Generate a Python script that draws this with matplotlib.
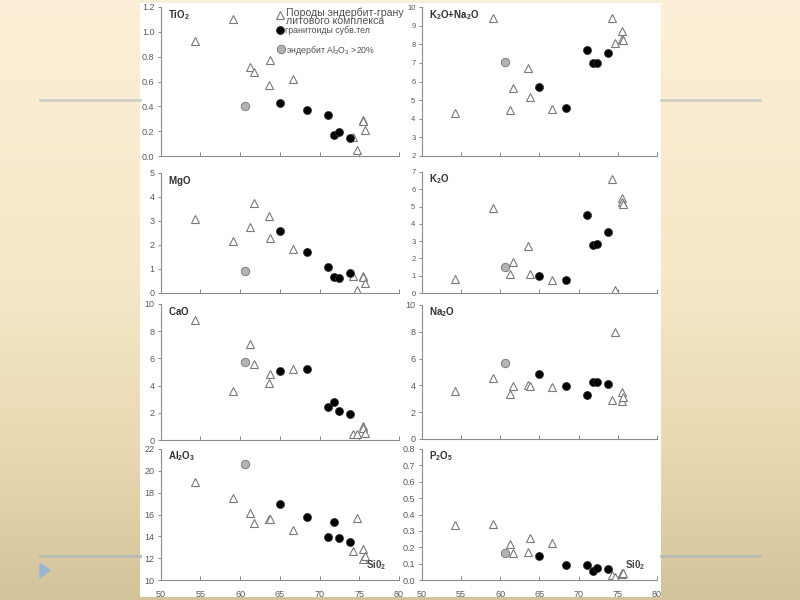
"""Harker diagrams (oxides vs SiO2) on a beige slide background."""

import matplotlib

matplotlib.use("Agg")
import matplotlib.pyplot as plt
import numpy as np
from matplotlib.colors import LinearSegmentedColormap
from matplotlib.lines import Line2D
from matplotlib.patches import Polygon, Rectangle

plt.rcParams["font.family"] = ["Liberation Sans", "DejaVu Sans"]
plt.rcParams["mathtext.fontset"] = "custom"
plt.rcParams["mathtext.rm"] = "Liberation Sans"
plt.rcParams["mathtext.bf"] = "Liberation Sans:bold"

# SiO2, wt.% -- enderbite-granulite rocks (triangles), subvolcanic granitoids (black),
# enderbite with Al2O3 > 20% (grey)
SIO2_TRI = [54.3, 59.1, 61.2, 61.7, 63.6, 63.8, 66.6, 74.2, 74.7, 75.5, 75.5, 75.7]
SIO2_BLK = [65.0, 68.4, 71.1, 71.8, 72.4, 73.8]
SIO2_GRY = [60.6]

TIO2_TRI = [0.93, 1.10, 0.72, 0.68, 0.57, 0.77, 0.62, 0.15, 0.05, 0.29, 0.28, 0.21]
TIO2_BLK = [0.425, 0.374, 0.33, 0.168, 0.195, 0.144]
TIO2_GRY = [0.40]

MGO_TRI = [3.07, 2.16, 2.73, 3.74, 3.22, 2.30, 1.81, 0.69, 0.10, 0.70, 0.64, 0.38]
MGO_BLK = [2.58, 1.71, 1.05, 0.66, 0.59, 0.80]
MGO_GRY = [0.90]

CAO_TRI = [8.79, 3.62, 7.05, 5.60, 4.20, 4.88, 5.25, 0.41, 0.41, 1.00, 0.90, 0.48]
CAO_BLK = [5.05, 5.19, 2.46, 2.83, 2.15, 1.93]
CAO_GRY = [5.70]

AL2O3_TRI = [18.94, 17.5, 16.18, 15.2, 15.55, 15.6, 14.6, 12.66, 15.7, 12.8, 11.93, 12.2]
AL2O3_BLK = [16.92, 15.76, 13.92, 15.27, 13.89, 13.52]
AL2O3_GRY = [20.65]

ALK_TRI = [4.30, 9.41, 4.48, 5.65, 6.70, 5.15, 4.55, 9.40, 8.09, 8.69, 8.27, 8.22]
ALK_BLK = [5.69, 4.59, 7.71, 6.99, 6.99, 7.52]
ALK_GRY = [7.05]

K2O_TRI = [0.81, 4.93, 1.11, 1.77, 2.73, 1.09, 0.73, 6.62, 0.15, 5.51, 5.28, 5.14]
K2O_BLK = [0.96, 0.73, 4.49, 2.78, 2.82, 3.55]
K2O_GRY = [1.48]

NA2O_TRI = [3.60, 4.54, 3.35, 3.92, 4.04, 3.97, 3.85, 2.88, 8.01, 3.50, 2.80, 3.10]
NA2O_BLK = [4.84, 3.92, 3.30, 4.29, 4.24, 4.09]
NA2O_GRY = [5.66]

P2O5_TRI = [0.337, 0.341, 0.218, 0.167, 0.173, 0.255, 0.224, 0.031, 0.02, 0.045, 0.037, 0.04]
P2O5_BLK = [0.147, 0.092, 0.09, 0.057, 0.071, 0.067]
P2O5_GRY = [0.167]

X_TICKS = [50, 55, 60, 65, 70, 75, 80]

LEGEND_LABELS = ["Породы эндербит-грану\nлитового комплекса",
                 "гранитоиды субв.тел", "эндербит Al$_2$O$_3$ >20%"]

TICK_INK = "#5a5a5a"
SPINE_INK = "#8c8c8c"
LEGEND_INK = "#505050"
TRI_STYLE = dict(ls="none", marker="^", ms=5.3, mfc="white", mec="#7a7a7a", mew=0.8)
BLK_STYLE = dict(ls="none", marker="o", ms=5.8, mfc="black", mec="#333333", mew=0.5)
GRY_STYLE = dict(ls="none", marker="o", ms=6.0, mfc="#b3b3b3", mec="#7d7d7d", mew=0.7)


def px_rect(x0, x1, top, bot):
    """Figure-fraction rect from pixel bounds on the 800x600 canvas."""
    return [x0 / 800, 1 - bot / 600, (x1 - x0) / 800, (bot - top) / 600]


fig = plt.figure(figsize=(8, 6), dpi=100)

# slide background
bg = fig.add_axes([0, 0, 1, 1], zorder=-10)
bg.set_xlim(0, 800)
bg.set_ylim(600, 0)
bg.axis("off")
cmap = LinearSegmentedColormap.from_list(
    "slide", [(0, "#fbefd7"), (0.45, "#f6e8c8"), (0.75, "#e9d9b2"), (1, "#d3c39a")])
grad = np.linspace(0, 1, 256).reshape(-1, 1)
bg.imshow(grad, cmap=cmap, aspect="auto", extent=(0, 800, 600, 0))
for y, c in [(100, "#cfcfc6"), (556, "#b9bcb4")]:
    bg.plot([40, 140], [y, y], color=c, lw=2)
    bg.plot([661, 760], [y, y], color=c, lw=2)
bg.add_patch(Polygon([(40, 563), (50, 570.5), (40, 578)], color="#9cb5d2"))
bg.add_patch(Rectangle((140, 3), 521, 594, facecolor="white", edgecolor="none"))

panels = [
    (r"$\mathbf{TiO_2}$", TIO2_TRI, TIO2_BLK, TIO2_GRY, (0, 1.2), 0.2, "{:.1f}", (160.7, 399, 7, 156), 6.5),
    (r"$\mathbf{MgO}$", MGO_TRI, MGO_BLK, MGO_GRY, (0, 5), 1, "{:.0f}", (160.7, 399, 173, 292.5), 6.5),
    (r"$\mathbf{CaO}$", CAO_TRI, CAO_BLK, CAO_GRY, (0, 10), 2, "{:.0f}", (160.7, 399, 304, 440), 6.5),
    (r"$\mathbf{Al_2O_3}$", AL2O3_TRI, AL2O3_BLK, AL2O3_GRY, (10, 22), 2, "{:.0f}", (160.7, 399, 449, 580), 6.5),
    (r"$\mathbf{K_2O{+}Na_2O}$", ALK_TRI, ALK_BLK, ALK_GRY, (2, 10), 1, "{:.0f}", (421.7, 657, 7, 156), 5.5),
    (r"$\mathbf{K_2O}$", K2O_TRI, K2O_BLK, K2O_GRY, (0, 7), 1, "{:.0f}", (421.7, 657, 172, 293), 5.5),
    (r"$\mathbf{Na_2O}$", NA2O_TRI, NA2O_BLK, NA2O_GRY, (0, 10), 2, "{:.0f}", (421.7, 657, 305, 439), 6.5),
    (r"$\mathbf{P_2O_5}$", P2O5_TRI, P2O5_BLK, P2O5_GRY, (0, 0.8), 0.1, "{:.1f}", (421.7, 657, 449, 580), 6.5),
]

axes = []
for i, (label, tri, blk, gry, ylim, step, fmt, bounds, tsize) in enumerate(panels):
    ax = fig.add_axes(px_rect(*bounds))
    ax.patch.set_alpha(0)
    ax.plot(SIO2_TRI, tri, **TRI_STYLE)
    ax.plot(SIO2_BLK, blk, **BLK_STYLE)
    ax.plot(SIO2_GRY, gry, **GRY_STYLE)

    ax.set_xlim(50, 80)
    ax.set_ylim(*ylim)
    yt = np.round(np.arange(ylim[0], ylim[1] + step / 2, step), 3)
    ax.set_yticks(yt)
    ax.set_yticklabels([fmt.format(v) for v in yt])
    ax.set_xticks(X_TICKS)
    bottom_row = i in (3, 7)
    ax.set_xticklabels([str(v) for v in X_TICKS] if bottom_row else [])
    for side in ("top", "right"):
        ax.spines[side].set_visible(False)
    for side in ("left", "bottom"):
        ax.spines[side].set_color(SPINE_INK)
        ax.spines[side].set_linewidth(0.8)
    ax.tick_params(axis="y", direction="out", length=2.5, width=0.7, color=SPINE_INK,
                   labelsize=tsize, labelcolor=TICK_INK, pad=2)
    ax.tick_params(axis="x", direction="in", length=3, width=0.7, color=SPINE_INK,
                   labelsize=6.5, labelcolor=TICK_INK, pad=7)
    ax.text(0.03, 0.995, label, transform=ax.transAxes, ha="left", va="top",
            fontsize=7, color="#333333")
    if bottom_row:
        ax.text(0.905, 0.11, r"$\mathbf{Si0_2}$", transform=ax.transAxes, ha="center",
                va="center", fontsize=7, color="#444444")
    axes.append(ax)

# legend inside the TiO2 panel
ax0 = axes[0]
common = dict(loc="center left", frameon=False, borderpad=0, borderaxespad=0,
              labelcolor=LEGEND_INK)
leg1 = ax0.legend([Line2D([], [], **TRI_STYLE)], [LEGEND_LABELS[0]],
                  bbox_to_anchor=(0.484, 0.934), handlelength=0.75, handletextpad=0.16,
                  handleheight=2.25, fontsize=7.6, **common)
leg1.get_texts()[0].set_linespacing(0.85)
ax0.add_artist(leg1)
leg2 = ax0.legend([Line2D([], [], **BLK_STYLE)], [LEGEND_LABELS[1]],
                  bbox_to_anchor=(0.483, 0.839), handlelength=1.0, handletextpad=0.1,
                  fontsize=6.3, **common)
ax0.add_artist(leg2)
ax0.legend([Line2D([], [], **GRY_STYLE)], [LEGEND_LABELS[2]],
           bbox_to_anchor=(0.486, 0.711), handlelength=1.0, handletextpad=0.05,
           fontsize=6.3, **common)

fig.savefig("out.png", dpi=100)
